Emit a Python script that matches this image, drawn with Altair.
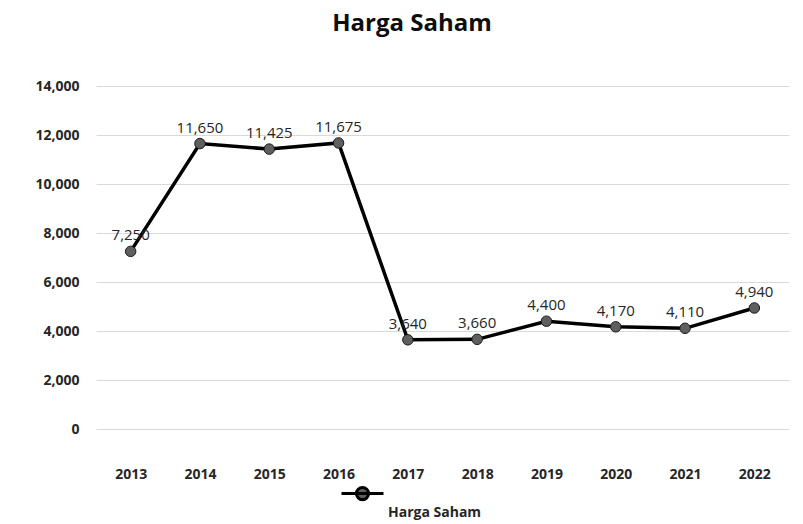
import altair as alt
import pandas as pd

years = ["2013", "2014", "2015", "2016", "2017", "2018", "2019", "2020", "2021", "2022"]
prices = [7250, 11650, 11425, 11675, 3640, 3660, 4400, 4170, 4110, 4940]
series_name = "Harga Saham"
y_ticks = [0, 2000, 4000, 6000, 8000, 10000, 12000, 14000]

df = pd.DataFrame({"Tahun": years, "Harga": prices, "Seri": [series_name] * len(years)})

FONT = "Open Sans"
TXT = "#262626"

x_enc = alt.X("Tahun:O", sort=years, title=None,
              axis=alt.Axis(labelAngle=0, labelFont=FONT, labelFontSize=14, labelFontWeight="bold",
                            labelColor=TXT, ticks=False, domain=False, labelPadding=38, grid=False),
              scale=alt.Scale(padding=0.5))
y_enc = alt.Y("Harga:Q", title=None,
              scale=alt.Scale(domain=[0, 14000], nice=False),
              axis=alt.Axis(values=y_ticks, format=",.0f", labelFont=FONT, labelFontSize=14,
                            labelFontWeight="bold", labelColor=TXT, ticks=False, domain=False,
                            labelPadding=17, gridColor="#d9d9d9", gridWidth=1))

base = alt.Chart(df)

line = base.mark_line(color="black", strokeWidth=3.5).encode(x=x_enc, y=y_enc)

points = base.mark_point(filled=True, size=110, stroke="#1a1a1a", strokeWidth=1, opacity=1).encode(
    x=x_enc, y=y_enc,
    color=alt.Color("Seri:N", scale=alt.Scale(range=["#5f5f5f"]),
                    legend=alt.Legend(
                        title=None, orient="none", legendX=244, legendY=404,
                        symbolType="M-1,-0.9L1,-0.9M-0.29,-0.9A0.29,0.29 0 1,0 0.29,-0.9A0.29,0.29 0 1,0 -0.29,-0.9Z",
                        symbolSize=1764, symbolStrokeColor="black", symbolStrokeWidth=3,
                        symbolFillColor="#5f5f5f", labelFont=FONT, labelFontSize=14,
                        labelFontWeight="bold", labelColor=TXT, labelOffset=3, padding=0)),
)

labels = base.mark_text(dy=-16, font=FONT, fontSize=15, color=TXT).encode(
    x=x_enc, y=y_enc, text=alt.Text("Harga:Q", format=",.0f"))

chart = (line + points + labels).properties(
    width=693, height=343,
    padding={"left": 26, "top": 4, "right": 5, "bottom": 5},
    title=alt.TitleParams("Harga Saham", font=FONT, fontSize=24, fontWeight="bold", color="#0d0d0d",
                          anchor="middle", frame="bounds", offset=43),
).configure(background="white").configure_view(strokeWidth=0).configure_axisX(grid=False, domain=False)

chart.save("out.html", embed_options={"renderer": "svg", "actions": False})
